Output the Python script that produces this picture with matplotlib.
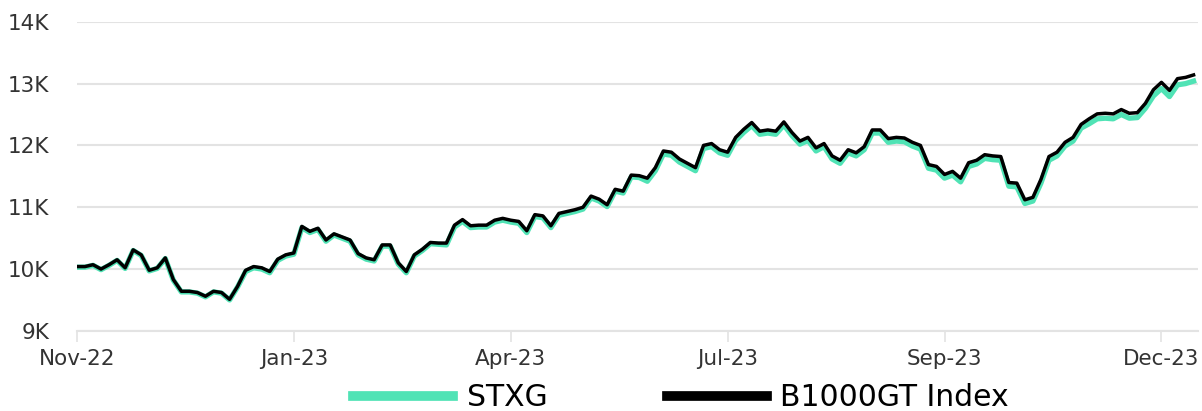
"""
STXG vs B1000GT Index, Nov-22 to Dec-23 (index level).
"""

import matplotlib
matplotlib.use("Agg")
import matplotlib.pyplot as plt
import matplotlib.ticker as ticker

# index levels, sampled roughly every two trading days
b1000gt = [
    10040, 10040, 10070, 10000, 10070, 10150, 10020, 10310, 10230, 9980,
    10020, 10180, 9830, 9640, 9640, 9620, 9560, 9640, 9620, 9510,
    9720, 9980, 10040, 10020, 9960, 10160, 10230, 10260, 10690, 10610,
    10660, 10470, 10570, 10520, 10470, 10250, 10180, 10150, 10390, 10390,
    10100, 9960, 10230, 10320, 10430, 10420, 10420, 10710, 10800, 10700,
    10710, 10710, 10790, 10820, 10790, 10770, 10620, 10880, 10860, 10700,
    10900, 10930, 10960, 11000, 11180, 11130, 11040, 11290, 11260, 11520,
    11510, 11470, 11640, 11910, 11890, 11780, 11710, 11640, 12000, 12030,
    11930, 11890, 12130, 12260, 12370, 12230, 12250, 12230, 12380, 12210,
    12070, 12130, 11960, 12030, 11830, 11760, 11930, 11880, 11980, 12250,
    12250, 12110, 12130, 12120, 12050, 12000, 11690, 11660, 11530, 11580,
    11470, 11720, 11760, 11850, 11830, 11820, 11400, 11390, 11120, 11160,
    11450, 11820, 11890, 12050, 12130, 12340, 12430, 12510, 12520, 12510,
    12580, 12520, 12530, 12680, 12900, 13020, 12890, 13080, 13100, 13140,
]

stxg = [
    10030, 10030, 10060, 9990, 10060, 10140, 10010, 10300, 10220, 9970,
    10010, 10170, 9820, 9630, 9630, 9610, 9550, 9630, 9610, 9500,
    9710, 9960, 10020, 10000, 9940, 10140, 10210, 10240, 10670, 10590,
    10640, 10450, 10550, 10500, 10450, 10230, 10160, 10130, 10370, 10370,
    10080, 9940, 10210, 10300, 10410, 10400, 10390, 10680, 10770, 10670,
    10680, 10680, 10760, 10790, 10760, 10740, 10590, 10850, 10830, 10670,
    10870, 10900, 10930, 10970, 11150, 11100, 11010, 11260, 11230, 11490,
    11480, 11420, 11590, 11860, 11840, 11730, 11660, 11590, 11950, 11980,
    11880, 11840, 12080, 12210, 12320, 12180, 12200, 12180, 12330, 12160,
    12020, 12080, 11910, 11980, 11780, 11710, 11880, 11830, 11930, 12200,
    12200, 12050, 12070, 12060, 11990, 11940, 11630, 11600, 11470, 11520,
    11410, 11660, 11700, 11790, 11770, 11760, 11340, 11330, 11060, 11100,
    11390, 11760, 11830, 11990, 12070, 12280, 12350, 12430, 12440, 12430,
    12500, 12440, 12450, 12600, 12800, 12920, 12790, 12980, 13000, 13040,
]

tick_labels = ["Nov-22", "Jan-23", "Apr-23", "Jul-23", "Sep-23", "Dec-23"]
TICK_EVERY = 27  # points between labelled ticks

GREEN = "#50e3b5"
GRID = "#e3e3e3"


def main():
    plt.rcParams["font.family"] = ["DejaVu Sans"]

    fig = plt.figure(figsize=(12.02, 4.11), dpi=100)
    ax = fig.add_axes([0.064, 0.195, 0.933, 0.752])

    x = range(len(b1000gt))
    ax.plot(x, stxg, color=GREEN, lw=3.8, solid_joinstyle="round", label="STXG", zorder=3)
    ax.plot(x, b1000gt, color="black", lw=2.5, solid_joinstyle="round", label="B1000GT Index", zorder=4)

    ax.set_ylim(9000, 14000)
    ax.set_xlim(0, 139.6)
    ax.yaxis.set_major_locator(ticker.MultipleLocator(1000))
    ax.yaxis.set_major_formatter(ticker.FuncFormatter(lambda v, _: f"{int(v / 1000)}K"))
    ax.set_xticks([i * TICK_EVERY for i in range(len(tick_labels))])
    ax.set_xticklabels(tick_labels)

    ax.grid(axis="y", color=GRID, lw=1.5)
    ax.set_axisbelow(True)
    for side in ["left", "right", "top"]:
        ax.spines[side].set_visible(False)
    ax.spines["bottom"].set_color(GRID)
    ax.spines["bottom"].set_linewidth(1.5)

    ax.tick_params(axis="y", length=0, pad=20, labelsize=15.5, labelcolor="#333333")
    ax.tick_params(axis="x", length=8, width=1.2, color=GRID, pad=5,
                   labelsize=15.5, labelcolor="#333333")

    fig.legend(loc="center", bbox_to_anchor=(0.5666, 0.032), ncol=2, frameon=False,
               fontsize=21.5, handlelength=3.35, handletextpad=0.45, columnspacing=4.0,
               borderpad=0)
    for line in fig.legends[0].get_lines():
        line.set_linewidth(7)

    fig.savefig("out.png", dpi=100)


if __name__ == "__main__":
    main()
